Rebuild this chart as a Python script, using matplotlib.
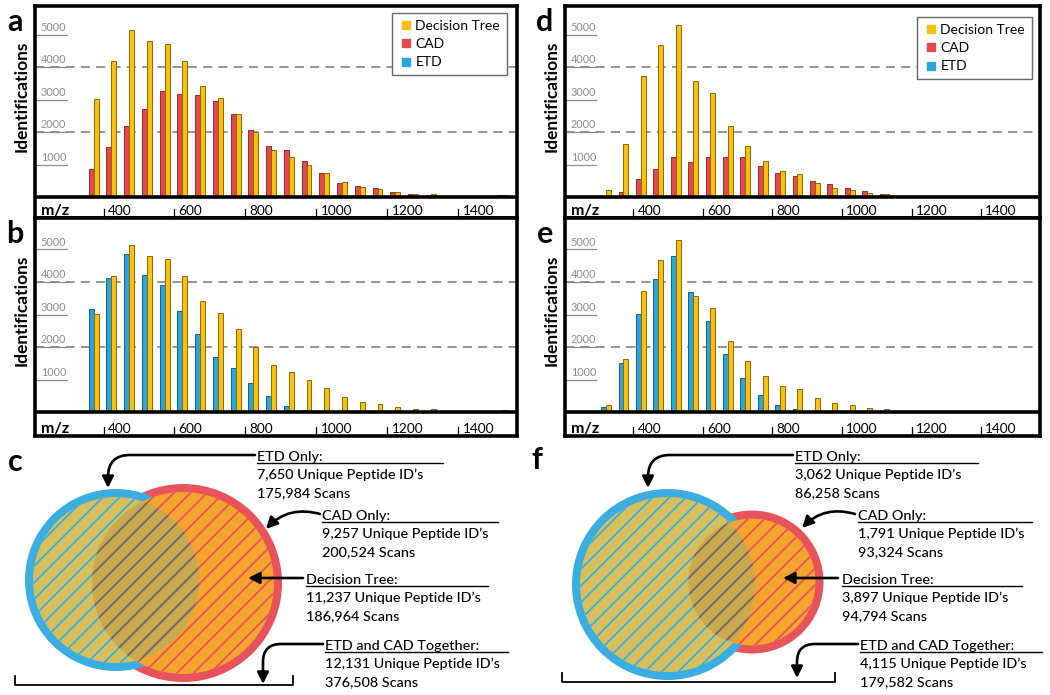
import matplotlib
matplotlib.use('Agg')
import matplotlib.pyplot as plt
from matplotlib.patches import Circle, FancyArrowPatch
from matplotlib.lines import Line2D
import matplotlib.transforms as mtransforms

plt.rcParams['font.family'] = ['Lato', 'DejaVu Sans']
plt.rcParams['hatch.linewidth'] = 1.3

# ---------------- data ----------------
mz_bins = [325, 375, 425, 475, 525, 575, 625, 675, 725, 775, 825, 875, 925,
           975, 1025, 1075, 1125, 1175, 1225, 1275, 1325, 1375, 1425, 1475, 1525]
mz_ticks = [400, 600, 800, 1000, 1200, 1400]
id_ticks = [1000, 2000, 3000, 4000, 5000]
grid_vals = [2000, 4000]

# Experiment 1 (panels a, b, c)
cad_1 = [0, 850, 1540, 2175, 2720, 3260, 3170, 3130, 2945, 2565, 2070, 1570, 1435,
         1110, 740, 440, 340, 265, 145, 100, 70, 40, 40, 0, 50]
etd_1 = [0, 3180, 4125, 4850, 4225, 3920, 3120, 2390, 1680, 1365, 890, 500, 185,
         50, 0, 0, 0, 0, 0, 0, 0, 0, 0, 0, 0]
dt_1 = [0, 3010, 4180, 5150, 4810, 4715, 4180, 3415, 3040, 2545, 2010, 1445, 1245,
        980, 745, 450, 315, 245, 150, 85, 85, 45, 45, 20, 50]

# Experiment 2 (panels d, e, f)
cad_2 = [0, 145, 555, 860, 1230, 1090, 1230, 1230, 1230, 965, 740, 645, 480,
         390, 290, 185, 80, 40, 40, 0, 0, 20, 0, 0, 40]
etd_2 = [145, 1520, 3005, 4080, 4800, 3680, 2800, 1785, 1045, 535, 215, 80, 40,
         0, 0, 0, 0, 0, 0, 0, 0, 0, 0, 0, 0]
dt_2 = [225, 1640, 3710, 4665, 5305, 3580, 3205, 2185, 1575, 1095, 795, 700, 420,
        285, 225, 125, 80, 40, 40, 0, 0, 40, 0, 0, 30]

legend_labels = ['Decision Tree', 'CAD', 'ETD']

venn_1 = [['ETD Only:', '7,650 Unique Peptide ID\u2019s', '175,984 Scans'],
          ['CAD Only:', '9,257 Unique Peptide ID\u2019s', '200,524 Scans'],
          ['Decision Tree:', '11,237 Unique Peptide ID\u2019s', '186,964 Scans'],
          ['ETD and CAD Together:', '12,131 Unique Peptide ID\u2019s', '376,508 Scans']]
venn_2 = [['ETD Only:', '3,062 Unique Peptide ID\u2019s', '86,258 Scans'],
          ['CAD Only:', '1,791 Unique Peptide ID\u2019s', '93,324 Scans'],
          ['Decision Tree:', '3,897 Unique Peptide ID\u2019s', '94,794 Scans'],
          ['ETD and CAD Together:', '4,115 Unique Peptide ID\u2019s', '179,582 Scans']]

# ---------------- style ----------------
YEL, YEL_E = '#fbbf0f', '#8a6a00'
RED, RED_E = '#e5484d', '#9a2a2a'
BLU, BLU_E = '#27a6df', '#1a5f85'

W, H = 1050, 695
fig = plt.figure(figsize=(W / 100, H / 100), dpi=100)
PXU = 32.5 / 1000.0  # pixels per identification


def px_axes(l, t, r, b, **kw):
    return fig.add_axes([l / W, 1 - b / H, (r - l) / W, (b - t) / H], **kw)


def bar_panel(l, t, r, b, base, xlim, first, fcol, fedge, dt, letter, legend_anchor=None):
    ax = px_axes(l, t, r, b)
    ax.set_xlim(*xlim)
    ax.set_ylim(-(b - base) / PXU, (base - t) / PXU)
    for s in ax.spines.values():
        s.set_linewidth(2.6)
        s.set_color('black')
    ax.set_xticks([])
    ax.set_yticks([])
    bw = 14
    ax.bar([m - 10 for m in mz_bins], first, width=bw, color=fcol, edgecolor=fedge,
           linewidth=0.7, zorder=3)
    ax.bar([m + 4 for m in mz_bins], dt, width=bw, color=YEL, edgecolor=YEL_E,
           linewidth=0.7, zorder=3)
    ax.axhline(0, color='black', lw=2.6, zorder=5)
    for g in grid_vals:
        ax.axhline(g, color='#777777', lw=1.1, dashes=(6, 4), zorder=1)
    blend = mtransforms.blended_transform_factory(ax.transAxes, ax.transData)
    for v in id_ticks:
        ax.plot([0, 0.066], [v, v], color='#8c8c8c', lw=0.9, transform=blend, zorder=2)
        ax.text(0.012, v + 60, str(v), transform=blend, fontsize=7.8, color='#8c8c8c',
                ha='left', va='bottom', zorder=2)
    # m/z strip (offsets in px below the baseline)
    strip = b - base
    ytxt = -(strip - 3) / PXU
    for v in mz_ticks:
        ax.plot([v, v], [-(strip - 9) / PXU, -(strip - 1) / PXU], color='black', lw=0.9,
                zorder=4)
        ax.text(v + 12, ytxt, str(v), fontsize=9.8, ha='left', va='baseline')
    ax.text(0.012, ytxt, 'm/z', transform=blend, fontsize=11.5, fontweight='bold',
            ha='left', va='baseline')
    # labels
    fig.text((l - 13) / W, 1 - ((t + base) / 2 - 5) / H, 'Identifications', rotation=90,
             fontsize=12.5, fontweight='bold', ha='center', va='center')
    fig.text((l - 20) / W, 1 - (t + 16) / H, letter, fontsize=22, fontweight='bold',
             ha='center', va='center')
    if legend_anchor is not None:
        handles = [Line2D([], [], ls='none', marker='s', ms=6, color=c)
                   for c in (YEL, RED, BLU)]
        ax.legend(handles, legend_labels, loc='upper right', bbox_to_anchor=legend_anchor,
                  fancybox=False, framealpha=1, edgecolor='#666666', fontsize=10,
                  handletextpad=0.2, handlelength=1.0, borderpad=0.5, labelspacing=0.45,
                  borderaxespad=0)
    return ax


bar_panel(35, 6, 517, 218, 197, (207, 1565), cad_1, RED, RED_E, dt_1, 'a',
          legend_anchor=((507 - 35) / 482, 1 - (13 - 6) / 212))
bar_panel(35, 218, 517, 436, 412, (207, 1565), etd_1, BLU, BLU_E, dt_1, 'b')
bar_panel(565, 6, 1040, 218, 197, (204, 1569), cad_2, RED, RED_E, dt_2, 'd',
          legend_anchor=((1032 - 565) / 475, 1 - (17 - 6) / 212))
bar_panel(565, 218, 1040, 436, 412, (204, 1569), etd_2, BLU, BLU_E, dt_2, 'e')

# ---------------- Venn panels ----------------
vax = fig.add_axes([0, 0, 1, 1], zorder=-1)
vax.set_xlim(0, W)
vax.set_ylim(H, 0)
vax.axis('off')

KHAKI = '#d7bf5c'
ORANGE = '#f5a42e'
OVER = '#c9ab4e'
RING_B = '#3aaee0'
RING_R = '#e8525a'
HATCH_D = '#75705e'
RW = 8  # ring width px


def venn(bc, bR, rc, rR, texts, text_pos, arrow_specs, bracket, letter, letter_pos):
    ringlw = 2 * RW * 0.72
    rb, rr = bR - RW, rR - RW
    vax.add_patch(Circle(rc, rr, fill=False, edgecolor=RING_R, lw=ringlw, zorder=1))
    vax.add_patch(Circle(bc, rb, fill=False, edgecolor=RING_B, lw=ringlw, zorder=1))
    bdisk = Circle(bc, rb, facecolor=KHAKI, edgecolor='none', zorder=2)
    vax.add_patch(bdisk)
    vax.add_patch(Circle(rc, rr, facecolor=ORANGE, edgecolor='none', zorder=3))
    ov = Circle(rc, rr, facecolor=OVER, edgecolor='none', zorder=4)
    vax.add_patch(ov)
    ov.set_clip_path(bdisk)
    vax.add_patch(Circle(bc, rb, facecolor='none', edgecolor=RING_B, lw=0, hatch='//', zorder=5))
    vax.add_patch(Circle(rc, rr, facecolor='none', edgecolor=RING_R, lw=0, hatch='//', zorder=6))
    ovh = Circle(rc, rr, facecolor='none', edgecolor=HATCH_D, lw=0, hatch='//', zorder=7)
    vax.add_patch(ovh)
    ovh.set_clip_path(bdisk)

    for lines, (x, y, x_end) in zip(texts, text_pos):
        for k, s in enumerate(lines):
            vax.text(x, y + 18 * k, s, fontsize=10.4, fontweight=500, ha='left',
                     va='baseline', zorder=10)
        vax.plot([x, x_end], [y + 2, y + 2], color='black', lw=1.0, zorder=10)

    for (p0, p1, style) in arrow_specs:
        vax.add_patch(FancyArrowPatch(p0, p1, arrowstyle='-|>', mutation_scale=17,
                                      connectionstyle=style, lw=1.9, color='black',
                                      shrinkA=0, shrinkB=0, zorder=11))
    (x0, x1, yb) = bracket
    vax.plot([x0, x0, x1, x1], [yb - 9, yb, yb, yb - 9], color='black', lw=1.3, zorder=10)
    vax.text(letter_pos[0], letter_pos[1], letter, fontsize=22, fontweight='bold',
             ha='center', va='center')


venn((116, 580), 91, (183, 583), 99, venn_1,
     [(257, 461, 443), (322, 520, 498), (306, 584, 488), (325, 650, 508)],
     [((255, 455), (108, 488), 'angle,angleA=0,angleB=90,rad=22'),
      ((320, 514), (266, 529), 'arc3,rad=0.3'),
      ((303, 578), (248, 578), 'arc3,rad=0'),
      ((323, 644), (263, 684), 'angle,angleA=0,angleB=90,rad=18')],
     (15, 293, 685), 'c', (15, 462))

venn((667.5, 584.5), 95.5, (752, 582), 71.5, venn_2,
     [(795, 461, 978), (858, 520, 1032), (842, 584, 1022), (860, 650, 1042)],
     [((793, 455), (648, 488), 'angle,angleA=0,angleB=90,rad=22'),
      ((855, 514), (802, 528), 'arc3,rad=0.3'),
      ((838, 578), (783, 578), 'arc3,rad=0'),
      ((858, 644), (797, 678), 'angle,angleA=0,angleB=90,rad=18')],
     (562, 835, 682), 'f', (537, 460))

fig.savefig('out.png', dpi=100)
